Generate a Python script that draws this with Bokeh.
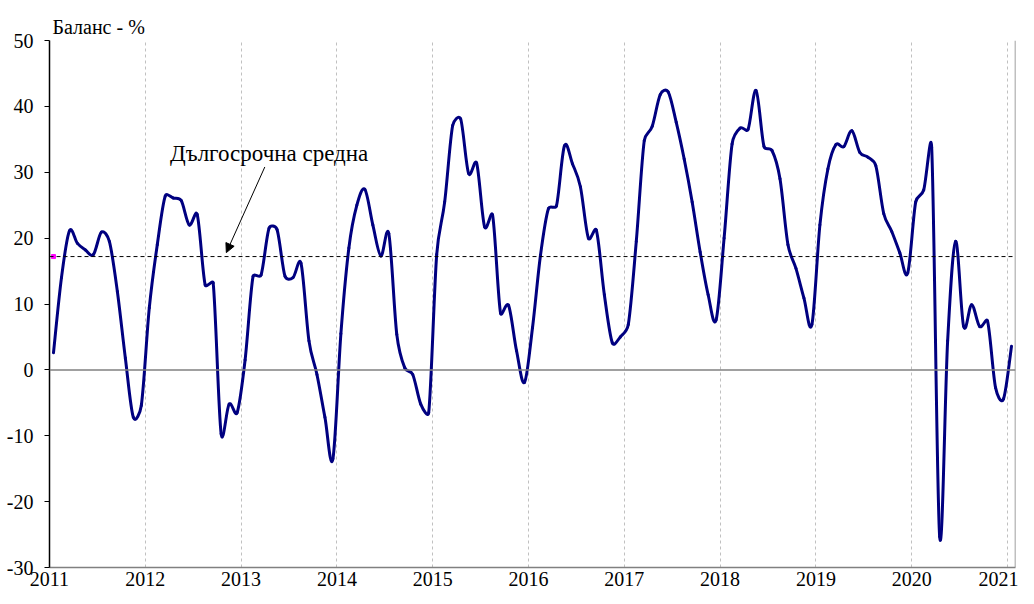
import numpy as np
from bokeh.plotting import figure
from bokeh.models import Range1d, FixedTicker, Span, Label, Arrow, NormalHead
from bokeh.embed import file_html
from bokeh.resources import INLINE

# ---- data (monthly balance, %, Jan 2011 .. Jan 2021) ----
years = [str(y) for y in range(2011, 2022)]
y_ticks = [-30, -20, -10, 0, 10, 20, 30, 40, 50]
bal_2011 = [2.6, 14.0, 21.1, 19.2, 18.2, 17.5, 20.9, 19.5, 11.9, 1.8, -7.2, -5.4]
bal_2012 = [9.4, 19.0, 26.4, 26.1, 25.7, 22.0, 23.6, 12.9, 13.2, -9.7, -5.2, -6.5]
bal_2013 = [1.5, 14.2, 14.4, 21.5, 21.3, 14.2, 14.0, 16.2, 4.4, -0.7, -7.2, -13.5]
bal_2014 = [5.5, 18.5, 25.0, 27.4, 22.0, 17.3, 20.7, 5.4, 0.3, -0.7, -5.2, -6.5]
bal_2015 = [17.5, 25.5, 37.1, 38.1, 29.8, 31.4, 21.7, 23.5, 8.6, 9.8, 2.9, -1.9]
bal_2016 = [6.4, 17.4, 24.5, 24.9, 34.0, 31.3, 27.8, 20.0, 21.2, 11.4, 4.1, 5.0]
bal_2017 = [6.9, 19.5, 34.8, 37.0, 41.8, 42.2, 37.6, 32.0, 25.5, 17.9, 11.4, 7.6]
bal_2018 = [20.0, 34.3, 36.7, 36.5, 42.4, 33.9, 33.3, 29.0, 19.0, 15.4, 10.9, 6.9]
bal_2019 = [22.0, 30.5, 34.2, 33.9, 36.3, 33.0, 32.3, 31.0, 23.7, 21.0, 17.8, 14.7]
bal_2020 = [25.5, 27.3, 33.8, -25.3, 4.4, 19.5, 6.6, 9.9, 6.6, 7.4, -2.7, -4.4]
bal_2021 = [3.6]
long_term_avg = 17.2

title_text = "Баланс - %"
annot_text = "Дългосрочна средна"

values = np.array(bal_2011 + bal_2012 + bal_2013 + bal_2014 + bal_2015 + bal_2016
                  + bal_2017 + bal_2018 + bal_2019 + bal_2020 + bal_2021, dtype=float)
n = len(values)
xs = np.arange(n) + 0.5  # category centres (months)

# smoothed line: cubic Bezier segments through the data points
# (spreadsheet-style smoothing: 1/6 tangent arms, capped at half the segment length)
SX, SY = 963.0 / n, 530.0 / 80.0  # approx. pixels per data unit, for arm-length capping
xp = np.concatenate([[xs[0]], xs, [xs[-1]]])
yp = np.concatenate([[values[0]], values, [values[-1]]])


def _dist(xa, ya, xb, yb):
    return np.hypot((xb - xa) * SX, (yb - ya) * SY)


P0x, P0y = xp[0:n - 1], yp[0:n - 1]
P1x, P1y = xp[1:n], yp[1:n]
P2x, P2y = xp[2:n + 1], yp[2:n + 1]
P3x, P3y = xp[3:n + 2], yp[3:n + 2]
d02 = _dist(P0x, P0y, P2x, P2y)
d12 = _dist(P1x, P1y, P2x, P2y)
d13 = _dist(P1x, P1y, P3x, P3y)
f = 1.0 / 6.0
f1 = np.where(f * d02 > d12 / 2, d12 / (2 * np.maximum(d02, 1e-9)), f)
f2 = np.where(f * d13 > d12 / 2, d12 / (2 * np.maximum(d13, 1e-9)), f)
cx0 = P1x + f1 * (P2x - P0x)
cy0 = P1y + f1 * (P2y - P0y)
cx1 = P2x - f2 * (P3x - P1x)
cy1 = P2y - f2 * (P3y - P1y)

p = figure(width=1018, height=588, x_range=Range1d(0, n), y_range=Range1d(-30, 50),
           output_backend="svg", toolbar_location=None,
           min_border_left=49, min_border_right=3, min_border_top=40, min_border_bottom=20)
p.background_fill_color = "white"
p.border_fill_color = "white"
p.outline_line_color = None

# title
p.title.text = title_text
p.title.text_font = "Liberation Serif"
p.title.text_font_size = "20px"
p.title.text_font_style = "normal"
p.title.text_color = "black"
p.title.align = "left"
p.title.offset = 3
p.title.standoff = 6

# axes
year_ticks = [12 * i for i in range(len(years))]
p.xaxis.ticker = FixedTicker(ticks=year_ticks)
p.xaxis.major_label_overrides = {t: y for t, y in zip(year_ticks, years)}
p.xaxis.major_tick_line_color = None
p.xaxis.major_tick_out = 0
p.xaxis.major_tick_in = 0
p.xaxis.minor_tick_line_color = None
p.xaxis.axis_line_color = "#808080"
p.xaxis.axis_line_width = 1.5
p.xaxis.major_label_standoff = 4
p.xaxis.major_label_text_font = "Liberation Serif"
p.xaxis.major_label_text_font_size = "20px"
p.xaxis.major_label_text_color = "black"

p.yaxis.ticker = FixedTicker(ticks=y_ticks)
p.yaxis.major_label_overrides = {t: str(t) for t in y_ticks}
p.yaxis.minor_tick_line_color = None
p.yaxis.major_tick_in = 0
p.yaxis.major_tick_out = 5
p.yaxis.major_tick_line_color = "black"
p.yaxis.axis_line_color = "black"
p.yaxis.axis_line_width = 1.5
p.yaxis.major_label_standoff = 11
p.yaxis.major_label_text_font = "Liberation Serif"
p.yaxis.major_label_text_font_size = "20px"
p.yaxis.major_label_text_color = "black"

p.xgrid.ticker = FixedTicker(ticks=year_ticks[1:])
p.xgrid.grid_line_color = "#c0c0c0"
p.xgrid.grid_line_dash = "3 3"
p.xgrid.grid_line_width = 1
p.ygrid.grid_line_color = None

# right frame border and zero line
p.add_layout(Span(location=n, dimension="height", line_color="#808080", line_width=1.5))
p.add_layout(Span(location=0, dimension="width", line_color="#808080", line_width=1.5))

# long-term average
p.add_layout(Span(location=long_term_avg, dimension="width", line_color="black",
                  line_dash="4 3", line_width=1))
p.scatter([xs[0]], [long_term_avg], marker="square", size=4, color="#ff00ff")

# series
p.bezier(x0=P1x, y0=P1y, x1=P2x, y1=P2y, cx0=cx0, cy0=cy0, cx1=cx1, cy1=cy1,
         line_color="#000080", line_width=3, line_cap="round")

# annotation
p.add_layout(Label(x=15.1, y=32.8, text=annot_text, text_font="Liberation Serif",
                   text_font_size="23px", text_baseline="alphabetic", text_color="black"))
p.add_layout(Arrow(end=NormalHead(size=9, fill_color="black", line_color="black"),
                   x_start=26.97, y_start=30.8, x_end=22.15, y_end=17.8,
                   line_color="black", line_width=1))

open("out.html", "w").write(file_html(p, INLINE))
